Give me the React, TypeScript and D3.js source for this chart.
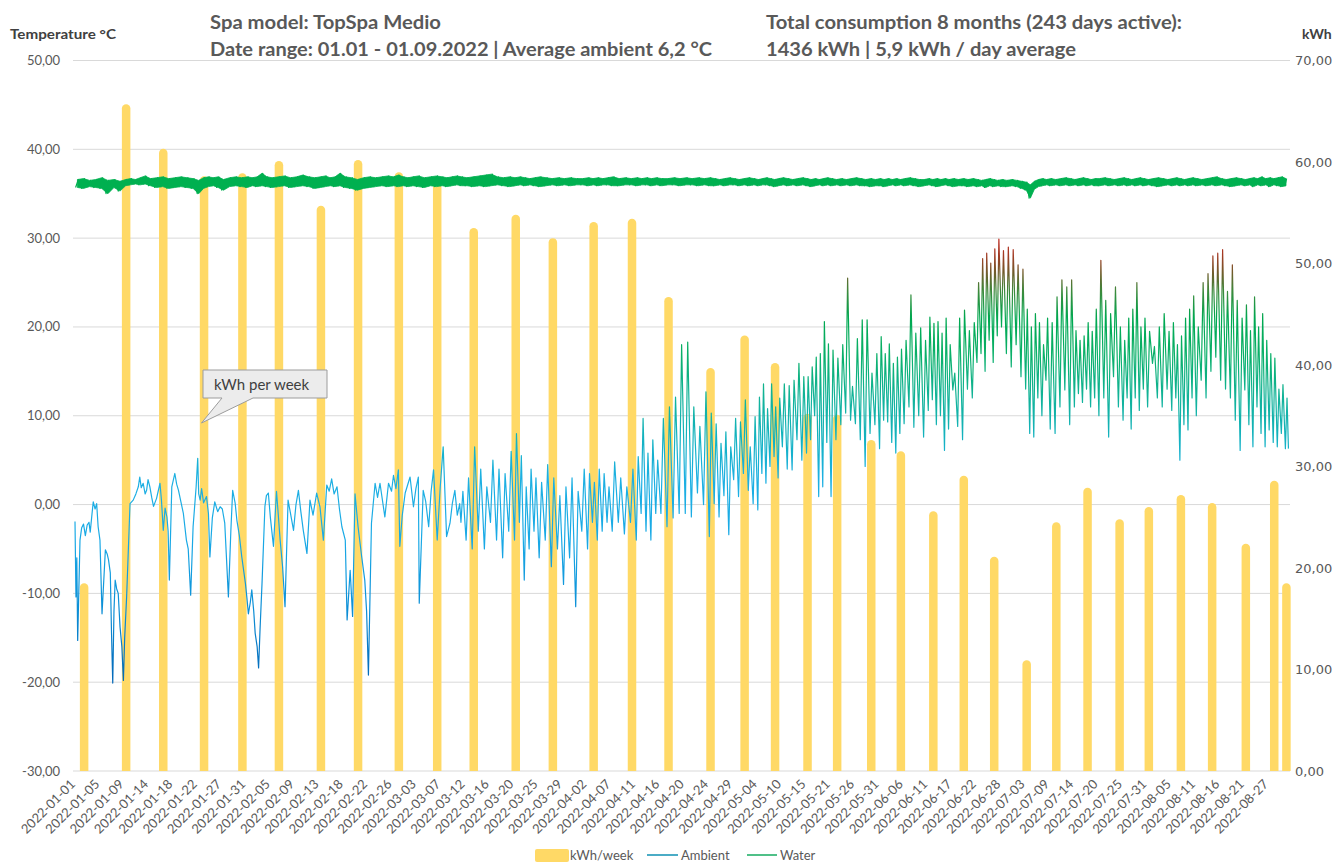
import React from 'react';
import * as d3 from 'd3';

// ---------- DATA ----------
const titleLines = ['Spa model: TopSpa Medio', 'Date range: 01.01 - 01.09.2022 | Average ambient 6,2 °C'];
const summaryLines = ['Total consumption 8 months (243 days active):', '1436 kWh | 5,9 kWh / day average'];

const xTickLabels = [
  '2022-01-01','2022-01-05','2022-01-09','2022-01-14','2022-01-18','2022-01-22','2022-01-27','2022-01-31',
  '2022-02-05','2022-02-09','2022-02-13','2022-02-18','2022-02-22','2022-02-26',
  '2022-03-03','2022-03-07','2022-03-12','2022-03-16','2022-03-20','2022-03-25','2022-03-29',
  '2022-04-02','2022-04-07','2022-04-11','2022-04-16','2022-04-20','2022-04-24','2022-04-29',
  '2022-05-04','2022-05-10','2022-05-15','2022-05-21','2022-05-26','2022-05-31',
  '2022-06-06','2022-06-11','2022-06-17','2022-06-22','2022-06-28',
  '2022-07-03','2022-07-09','2022-07-14','2022-07-20','2022-07-25','2022-07-31',
  '2022-08-05','2022-08-11','2022-08-16','2022-08-21','2022-08-27'
];
const axisEndDate = '2022-09-02';

const tempTicks = [50, 40, 30, 20, 10, 0, -10, -20, -30];
const kwhTicks = [70, 60, 50, 40, 30, 20, 10, 0];

const barDates = [
  '2022-01-02','2022-01-09','2022-01-16','2022-01-23','2022-01-30','2022-02-06','2022-02-13','2022-02-20',
  '2022-02-27','2022-03-06','2022-03-13','2022-03-20','2022-03-27','2022-04-03','2022-04-10','2022-04-17',
  '2022-04-24','2022-05-01','2022-05-08','2022-05-15','2022-05-22','2022-05-29','2022-06-05','2022-06-12',
  '2022-06-19','2022-06-26','2022-07-03','2022-07-10','2022-07-17','2022-07-24','2022-07-31','2022-08-07',
  '2022-08-14','2022-08-21','2022-08-28','2022-08-31'
];
const barKwh = [
  18.5, 65.7, 61.3, 58.6, 58.9, 60.1, 55.7, 60.2, 59.0, 57.9, 53.5, 54.8, 52.5, 54.1, 54.4, 46.7,
  39.7, 42.9, 40.2, 35.2, 35.1, 32.6, 31.5, 25.6, 29.1, 21.1, 10.9, 24.5, 27.9, 24.8, 26.0, 27.2,
  26.4, 22.4, 28.6, 18.5
];

// ambient, Jan 1 – Mar 10: [day since 2022-01-01, °C]
const ambientEarly: [number, number][] = [
  [0,-1.9],[0.16,-10.4],[0.3,-6],[0.44,-15.3],[0.82,-4.0],[1.1,-2.6],[1.4,-2.2],[1.7,-3.5],[2.0,-2.3],[2.3,-2.0],
  [2.5,-3.1],[2.8,-1.0],[3.0,0.3],[3.3,-0.5],[3.56,0.1],[3.8,-2.5],[4.1,-4],[4.44,-12.3],[4.99,-5.1],[5.3,-5.6],
  [5.5,-6.2],[5.8,-7.7],[6.0,-14.5],[6.2,-20.1],[6.4,-12],[6.6,-8.5],[6.85,-9.5],[7.1,-10],[7.4,-13.8],[7.7,-16],
  [7.95,-19.8],[8.2,-15],[8.6,-10.4],[9.3,0.1],[9.95,0.5],[10.5,1.2],[11.0,2.0],[11.3,3.1],[11.6,1.9],[12.0,2.4],
  [12.4,1.2],[12.7,1.6],[13.0,2.8],[13.3,2.0],[13.6,0.8],[13.9,-0.2],[14.4,0.7],[14.96,2.4],[15.2,0.5],[15.5,-2.9],
  [15.8,-0.4],[16.1,-1.4],[16.3,-3],[16.5,-8.5],[16.9,2.0],[17.4,3.5],[17.7,2.3],[18.0,1.6],[18.4,0.3],[18.8,-1.0],
  [19.3,-4.0],[19.6,-5],[20.0,-10.2],[20.4,-2.5],[20.9,2],[21.2,5.2],[21.4,1.2],[21.7,0.5],[22.0,1.8],[22.4,0.2],
  [23.0,0.9],[23.4,-1],[23.7,-5.9],[24.2,-1.5],[24.7,0.3],[25.3,-0.8],[25.8,-0.25],[26.2,-0.5],[26.6,-2.1],[27.2,-10.4],
  [27.6,-3],[27.9,1.6],[28.3,0.2],[28.6,-1.8],[29.0,-3.5],[29.4,-5.9],[30.0,-8.9],[30.3,-10.5],[30.6,-12.3],[31.0,-11],
  [31.3,-9.6],[31.7,-12],[32.0,-14.5],[32.4,-16],[32.7,-18.4],[33.0,-14],[33.4,-8.9],[34.0,-0.2],[34.3,1.0],[34.7,1.3],
  [35.1,-1.5],[35.6,-4.7],[36.1,1.5],[36.4,-1.2],[36.7,-4.0],[37.1,-7],[37.5,-11.5],[38.0,0.5],[38.4,-1],[38.9,-2.9],
  [39.3,0],[39.7,1.6],[40.1,-0.8],[40.5,-2.9],[41.1,-5.5],[41.6,0.5],[42.1,-1.2],[42.7,1.3],[43.3,-0.25],[44.0,-4.0],
  [44.7,2.2],[45.2,1.5],[45.7,2.9],[46.2,1.2],[46.8,2.0],[47.3,-0.5],[47.8,-2.5],[48.4,-4.0],[48.7,-13],[49.2,-7.4],
  [49.6,-12.6],[50.0,1.2],[50.5,-2.5],[51.1,-5.9],[51.6,-8.5],[51.9,-12],[52.2,-19.2],[52.7,-2.1],[53.3,2.4],[53.7,0.8],
  [54.1,2.4],[54.9,-1.4],[55.5,2.4],[56.0,1.5],[56.4,3.3],[56.9,1.8],[57.4,3.9],[57.7,-4.7],[58.2,-1.2],[58.8,1.3],
  [59.3,2.2],[59.8,3.1],[60.5,-0.25],[61.0,1.8],[61.4,3.1],[61.55,-11.1],[62.2,1.6],[62.6,0.4],[63.1,-2.5],[63.5,1.5],
  [63.9,3.9],[64.5,-4.0],[65.0,2],[65.6,6.5],[66.3,-3.6],[67.0,-2.1],[67.5,0.2],[68.0,1.6],[68.5,-1.2],[69.0,0.1]
];

// ambient daily low / high from day 69 (2022-03-11) to day 242 (2022-08-31)
const ambientDailyStart = 69;
const ambientLow = [
  -2,-4,-5,-3,-5,-2,-4,-6,-3,-4,
  -2,-8.5,-5,-3,-6,-4,-7,-5,-9,-6,
  -11.5,-3,-5,-2,-4,-3,-2,-3,-2,-3.3,
  -2,-4,-1,-3,-4,-1,-1,-2.5,-1.5,-1,
  -1,-1.4,1.3,0,-3.6,0.1,-1.4,1,-3.4,2.8,
  0.9,3.5,1.6,0.1,-0.6,3.5,2.4,4.3,5.4,3,
  6.5,4,3.9,7.3,5,5.8,7.3,10,0.9,2,
  7,0.9,7.3,9,10.3,9.5,9.1,7.3,4.3,8,
  9,6.3,9.5,9.3,7,5.8,8,9.1,11,8.7,
  10,7.6,10.6,11.8,9,10,6.1,8.5,12.9,8.8,
  7.3,13,12,16,17,15,18.5,16,19,20,
  17,15.5,18,14.4,13,8,7.6,12,10,14,
  8.5,8,11,12.9,9,11,12.5,11.5,13,11,
  12,10,12,7.6,14.4,11,9.5,12,8.5,12,
  10.6,13,11,15.9,12,11,13,10.6,12,5,
  9,8.4,12,10,14,12,15,16.6,14,13,
  12,9.5,6.1,12.9,9,6.5,11,8,6.5,8.4,
  7,6.5,8,6.3
];
const ambientHigh = [
  1.5,3,6.5,4,2,5,4,3.5,6,8,
  5.5,2,4,3,2.5,4.5,3,1,2,3,
  1.5,4,3.5,2.5,4,3.5,2,4.8,3,2,
  4,5.4,9.7,5.8,7.3,5,9.7,11,12.1,18,
  18.3,11,8.8,12.7,10.3,9.1,6.9,8.2,6.5,9.7,
  9.3,11.8,6.5,9.9,12.1,13.6,10.8,13.6,11,12,
  13.6,13.4,14,15.9,14.4,14.4,15.5,16.6,17,20.6,
  18.1,17.4,16.5,18,25.5,13.3,18.7,20.8,20.8,14.8,
  17,18.9,17,18.1,15.9,16.6,17.5,18.5,23.6,19.3,
  19.9,18.5,21.1,20.4,20.6,19.3,21,18,14.8,21,
  21.9,19.6,20.5,25,27.7,28.3,27.2,28.8,29.9,28.6,
  29,28.7,27,26.5,22,20,21.5,20.5,18,21,
  20.5,23.4,25.3,24.5,25.3,19.6,18.5,19,20.5,19.5,
  22,27.5,23,21.5,24.5,20,18.5,21,22,25,
  20,21,19.5,17.8,20,21.5,19.5,20.5,18,19,
  21,22,23.5,20,25,26,28,28.3,28.7,24,
  27,23,21,22.5,19.6,23.4,20,21.5,18.5,17,
  16.5,13,13.5,12
];
const ambientLast = 6.3;

// water temperature, daily low / high from day 0
const waterLow = [
  35.7,35.6,35.8,35.7,35.6,35.0,35.7,35.3,35.9,36.0,
  36.1,36.0,36.1,35.9,35.7,35.8,35.6,35.7,35.8,35.7,
  35.6,35.0,35.6,35.8,35.9,35.7,35.4,35.8,35.9,35.8,
  35.7,35.9,35.8,35.9,35.8,35.7,35.8,35.9,35.7,35.8,
  35.9,35.8,35.6,35.7,35.8,35.9,35.8,35.9,35.7,35.6,
  35.4,35.6,35.7,35.8,35.9,35.8,35.9,35.8,35.9,35.8,
  35.9,35.8,35.7,35.9,35.8,35.9,35.8,35.9,36.0,35.9,
  35.9,35.8,35.9,35.8,35.9,36.0,35.9,35.8,35.9,36.0,
  35.9,36.0,35.9,35.8,35.9,36.0,35.9,36.0,35.9,36.0,
  36.0,35.9,36.0,35.9,36.0,36.0,35.9,35.9,36.0,36.0,
  35.9,36.0,36.0,35.9,36.0,35.9,36.0,36.0,35.9,36.0,
  36.0,35.9,36.0,35.9,35.9,36.0,35.9,36.0,36.0,35.9,
  36.0,35.9,36.0,35.9,36.0,36.0,35.9,35.8,35.9,36.0,
  35.9,36.0,35.9,36.0,35.9,35.8,35.9,36.0,35.9,36.0,
  35.9,36.0,35.9,36.0,35.9,36.0,35.9,35.9,35.8,35.9,
  35.9,35.8,35.9,36.0,35.9,36.0,35.9,36.0,35.9,35.8,
  35.9,36.0,35.9,35.8,35.9,36.0,35.9,35.8,35.9,35.9,
  35.8,35.9,35.8,35.9,35.7,35.9,35.8,35.9,35.8,35.8,
  35.9,35.8,35.6,35.4,34.5,35.5,35.8,35.9,36.0,35.9,
  36.0,35.9,36.0,35.9,36.0,35.9,36.0,35.9,36.0,35.9,
  35.9,36.0,35.9,36.0,35.9,36.0,35.9,36.0,35.9,36.0,
  35.9,36.0,35.9,35.8,35.9,36.0,35.9,36.0,35.9,36.0,
  35.9,36.0,35.9,36.0,35.9,36.0,35.9,36.0,35.9,35.8,
  35.9,36.0,35.9,36.0,35.8,36.0,35.9,36.0,35.8,36.0,
  35.9,35.8,35.9
];
const waterHigh = [
  36.6,36.7,36.5,36.6,36.8,36.5,36.6,36.4,36.6,36.7,
  36.6,36.8,37.0,36.7,36.8,36.9,36.7,36.8,36.9,36.8,
  36.7,36.5,36.8,36.9,36.8,36.9,36.6,36.8,36.9,36.8,
  36.9,36.8,36.9,37.3,36.9,36.8,36.9,37.0,36.8,36.9,
  37.1,36.9,36.8,36.9,37.0,36.8,36.9,37.3,36.9,36.8,
  36.6,36.8,36.9,36.8,36.9,37.0,36.9,37.1,36.9,36.8,
  36.9,37.0,36.8,36.9,37.0,36.9,36.8,36.9,37.0,36.9,
  36.8,36.9,37.0,37.1,37.2,36.9,36.8,36.9,36.8,36.9,
  36.8,36.7,36.8,36.9,36.8,36.7,36.8,36.7,36.8,36.7,
  36.7,36.8,36.7,36.8,36.7,36.8,36.9,36.7,36.8,36.7,
  36.8,36.7,36.8,36.7,36.8,36.7,36.7,36.8,36.7,36.8,
  36.7,36.8,36.7,36.8,36.7,36.6,36.7,36.8,36.7,36.6,
  36.7,36.8,36.7,36.6,36.7,36.8,36.7,36.6,36.7,36.8,
  36.7,36.6,36.7,36.8,36.7,36.6,36.7,36.6,36.7,36.8,
  36.7,36.6,36.7,36.6,36.7,36.8,36.7,36.6,36.7,36.6,
  36.7,36.6,36.7,36.6,36.7,36.6,36.7,36.8,36.7,36.6,
  36.6,36.7,36.6,36.7,36.6,36.7,36.6,36.7,36.6,36.7,
  36.6,36.7,36.6,36.5,36.6,36.7,36.6,36.5,36.6,36.5,
  36.6,36.5,36.4,36.3,36.0,36.4,36.6,36.7,36.6,36.7,
  36.6,36.7,36.8,36.7,36.6,36.7,36.8,36.7,36.6,36.7,
  36.7,36.8,36.7,36.6,36.7,36.8,36.7,36.6,36.7,36.8,
  36.7,36.6,36.7,36.8,36.7,36.6,36.7,36.8,36.7,36.6,
  36.7,36.8,36.7,36.6,36.7,36.8,36.9,36.7,36.6,36.7,
  36.8,36.7,36.6,36.7,36.8,36.7,36.9,36.7,36.8,36.7,
  36.8,36.9,36.7
];

const legendItems = ['kWh/week', 'Ambient', 'Water'];
const calloutText = 'kWh per week';

// ---------- CHART ----------
const W = 1335, H = 865;
const L = 73, R = 1290, T = 60.5, B = 771;
const TICK0 = 75, TICKSTEP = 24.35;
const GRID = '#D9D9D9';
const TXT = '#595959';
const BAR = '#FFD966';
const WATER = '#00B050';
const FONT = 'Lato, "Open Sans", sans-serif';

const fmt = (v: number) => v.toFixed(2).replace('.', ',');

export default function App() {
  const parse = d3.utcParse('%Y-%m-%d');
  const t0 = parse('2022-01-01')!.getTime();
  const dayDate = (d: number) => new Date(t0 + d * 864e5);
  const tickDates = [...xTickLabels, axisEndDate].map((s) => parse(s)!);
  const x = d3.scaleUtc().domain(tickDates).range(tickDates.map((_, i) => TICK0 + i * TICKSTEP));
  const yT = d3.scaleLinear().domain([-30, 50]).range([B, T]);
  const yK = d3.scaleLinear().domain([0, 70]).range([B, T]);

  const line = d3.line<[number, number]>().x((p) => x(dayDate(p[0]))).y((p) => yT(p[1]));

  const ambientPts: [number, number][] = [...ambientEarly];
  ambientLow.forEach((lo, i) => {
    const d = ambientDailyStart + i;
    ambientPts.push([d + 0.25, lo]);
    ambientPts.push([d + 0.65, ambientHigh[i]]);
  });
  ambientPts.push([ambientDailyStart + ambientLow.length, ambientLast]);

  // water: noisy band between the daily low and high readings
  const waterBand = d3.area<number>()
    .x((_, i) => x(dayDate(i + 0.4)))
    .y0((lo) => yT(lo))
    .y1((_, i) => yT(waterHigh[i]));
  const waterPts: [number, number][] = [];
  waterLow.forEach((lo, i) => {
    waterPts.push([i + 0.1, lo]);
    waterPts.push([i + 0.55, waterHigh[i]]);
  });

  // colour by temperature, listed from warmest (top) to coldest (bottom)
  const gradStops: [number, string][] = [
    [30, '#C0281E'], [28, '#A03C24'], [26, '#6E5E2C'], [24, '#3C8A3C'], [21, '#00A850'],
    [17, '#0AB068'], [12, '#12B39A'], [7, '#14B2C4'], [3, '#1DB0E2'], [-4, '#19A9E6'],
    [-12, '#0C8ED6'], [-20, '#0468B8']
  ];
  const gy1 = yT(30), gy2 = yT(-20);

  const barW = 8.5, r = barW / 2;
  const bars = barDates.map((s, i) => {
    const cx = x(new Date(parse(s)!.getTime() + 12 * 3600e3));
    const top = yK(barKwh[i]);
    const x0 = cx - barW / 2, x1 = cx + barW / 2;
    return `M${x0},${B}V${top + r}A${r},${r} 0 0 1 ${x1},${top + r}V${B}Z`;
  });

  return (
    <svg width={W} height={H} style={{ position: 'absolute', left: 0, top: 0, background: '#fff' }}
      fontFamily={FONT}>
      <defs>
        <linearGradient id="ambGrad" gradientUnits="userSpaceOnUse" x1={0} x2={0} y1={gy1} y2={gy2}>
          {gradStops.map(([t, c], i) => (
            <stop key={i} offset={(yT(t) - gy1) / (gy2 - gy1)} stopColor={c} />
          ))}
        </linearGradient>
      </defs>
      <rect width={W} height={H} fill="#fff" />

      {/* gridlines */}
      {tempTicks.map((t) => (
        <line key={t} x1={L} x2={R} y1={yT(t)} y2={yT(t)} stroke={GRID} strokeWidth={1} />
      ))}

      {/* bars */}
      {bars.map((d, i) => <path key={i} d={d} fill={BAR} />)}

      {/* water */}
      <path d={waterBand(waterLow)!} fill={WATER} stroke={WATER} strokeWidth={0.8} />
      <path d={line(waterPts)!} fill="none" stroke={WATER} strokeWidth={1.2} strokeLinejoin="round" />
      {/* ambient */}
      <path d={line(ambientPts)!} fill="none" stroke="url(#ambGrad)" strokeWidth={1.2} strokeLinejoin="round" />

      {/* callout */}
      <path d="M203,370H327V398H253L201.5,423L222,398H203Z" fill="#ECECEC" stroke="#9C9C9C" strokeWidth={1} />
      <text x={214} y={390} fontSize={15} fill="#404040">{calloutText}</text>

      {/* left axis */}
      {tempTicks.map((t) => (
        <text key={t} x={60} y={yT(t)} dy="0.35em" textAnchor="end" fontSize={13} fill={TXT}>{fmt(t)}</text>
      ))}
      <text x={10} y={39} fontSize={14} fontWeight="bold" fill="#404040" textLength={106}
        lengthAdjust="spacingAndGlyphs">Temperature °C</text>

      {/* right axis */}
      {kwhTicks.map((k) => (
        <text key={k} x={1295} y={yK(k)} dy="0.35em" fontSize={13} fill={TXT} fontFamily='"DejaVu Sans", sans-serif'>{fmt(k)}</text>
      ))}
      <text x={1302} y={39} fontSize={14} fontWeight="bold" fill="#404040">kWh</text>

      {/* x axis labels */}
      {xTickLabels.map((s, i) => (
        <text key={s} transform={`translate(${x(tickDates[i]) + 1},${785}) rotate(-45)`} textAnchor="end"
          fontSize={13} fill={TXT}>{s}</text>
      ))}

      {/* titles */}
      <text x={210} y={29} fontSize={19.5} fontWeight="bold" fill={TXT} textLength={231} lengthAdjust="spacingAndGlyphs">{titleLines[0]}</text>
      <text x={210} y={56} fontSize={19.5} fontWeight="bold" fill={TXT} textLength={502} lengthAdjust="spacingAndGlyphs">{titleLines[1]}</text>
      <text x={766} y={29} fontSize={19.5} fontWeight="bold" fill={TXT} textLength={416} lengthAdjust="spacingAndGlyphs">{summaryLines[0]}</text>
      <text x={766} y={56} fontSize={19.5} fontWeight="bold" fill={TXT} textLength={310} lengthAdjust="spacingAndGlyphs">{summaryLines[1]}</text>

      {/* legend */}
      <rect x={535} y={849} width={34} height={13} rx={2} fill={BAR} />
      <text x={570} y={860} fontSize={13} fill={TXT}>{legendItems[0]}</text>
      <line x1={647} x2={678} y1={855} y2={855} stroke="#4BACC6" strokeWidth={2} />
      <text x={681} y={860} fontSize={13} fill={TXT}>{legendItems[1]}</text>
      <line x1={747} x2={777} y1={855} y2={855} stroke="#50C088" strokeWidth={2} />
      <text x={780} y={860} fontSize={13} fill={TXT}>{legendItems[2]}</text>
    </svg>
  );
}
